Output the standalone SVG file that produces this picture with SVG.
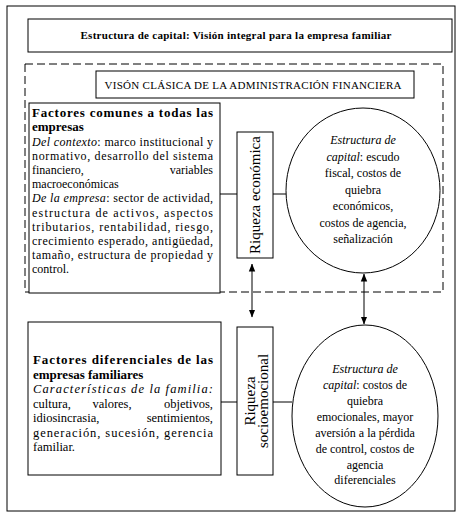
<svg xmlns="http://www.w3.org/2000/svg" width="464" height="521" viewBox="0 0 464 521">
<style>
text{font-family:"Liberation Serif","Times New Roman",serif;fill:#000}
.box{fill:#fff;stroke:#000;stroke-width:1}
.t12{font-size:12px}
.t13{font-size:12.5px}
.b{font-weight:bold}
.i{font-style:italic}
.ctr{text-anchor:middle}
.con{stroke:#000;stroke-width:1;fill:none}
</style>
<defs>
<marker id="ah" viewBox="0 0 8 8" refX="7.5" refY="4" markerWidth="8" markerHeight="8" markerUnits="userSpaceOnUse" orient="auto-start-reverse">
<path d="M0,0.8 L8,4 L0,7.2 z" fill="#000"/>
</marker>
</defs>
<rect x="0" y="0" width="464" height="521" fill="#fff"/>
<rect id="frame" x="7" y="6" width="448" height="505" fill="none" stroke="#000" stroke-width="1"/>
<g id="title">
<rect class="box" x="28" y="19" width="424" height="33"/>
<text class="b ctr" x="236" y="39" font-size="11" textLength="311" lengthAdjust="spacing">Estructura  de  capital: Visión integral para la empresa familiar</text>
</g>
<rect id="clasica-frame" x="25" y="64" width="418" height="228" fill="none" stroke="#000" stroke-width="1" stroke-dasharray="8,4"/>
<g id="vision-clasica">
<rect class="box" x="96" y="71" width="318" height="27"/>
<text class="ctr" x="253" y="89" font-size="11" textLength="297" lengthAdjust="spacing">VISÓN CLÁSICA DE LA ADMINISTRACIÓN FINANCIERA</text>
</g>
<g id="factores-comunes">
<rect class="box" x="29" y="103" width="191" height="190"/>
<text class="b" x="32" y="117" font-size="13" textLength="181" lengthAdjust="spacing">Factores comunes a todas las</text>
<text class="b" x="32" y="131" font-size="13">empresas</text>
<text class="t12" x="32" y="145.5" textLength="181" lengthAdjust="spacing"><tspan class="i">Del contexto</tspan>: marco institucional y</text>
<text class="t12" x="32" y="159.7" textLength="181" lengthAdjust="spacing">normativo, desarrollo del sistema</text>
<text class="t12" x="32" y="173.9">financiero,</text>
<text class="t12" x="213" y="173.9" text-anchor="end">variables</text>
<text class="t12" x="32" y="188.1">macroeconómicas</text>
<text class="t12" x="32" y="202.3" textLength="181" lengthAdjust="spacing"><tspan class="i">De la empresa</tspan>: sector de actividad,</text>
<text class="t12" x="32" y="216.5" textLength="181" lengthAdjust="spacing">estructura de activos, aspectos</text>
<text class="t12" x="32" y="230.7" textLength="181" lengthAdjust="spacing">tributarios, rentabilidad, riesgo,</text>
<text class="t12" x="32" y="244.9" textLength="181" lengthAdjust="spacing">crecimiento esperado, antigüedad,</text>
<text class="t12" x="32" y="259.1" textLength="181" lengthAdjust="spacing">tamaño, estructura de propiedad y</text>
<text class="t12" x="32" y="273.3">control.</text>
</g>
<g id="riqueza-economica">
<rect class="box" x="237" y="132" width="36" height="126"/>
<text class="ctr" transform="translate(260,195) rotate(-90)" font-size="15">Riqueza económica</text>
</g>
<g id="estructura-clasica">
<ellipse class="box" cx="363" cy="190.5" rx="77" ry="82.5"/>
<text class="t12 ctr" x="363" y="144"><tspan class="i">Estructura de</tspan></text>
<text class="t12 ctr" x="363" y="160.5"><tspan class="i">capital</tspan>: escudo</text>
<text class="t12 ctr" x="363" y="177">fiscal, costos de</text>
<text class="t12 ctr" x="363" y="193.5">quiebra</text>
<text class="t12 ctr" x="363" y="210">económicos,</text>
<text class="t12 ctr" x="363" y="226.5">costos de agencia,</text>
<text class="t12 ctr" x="363" y="243">señalización</text>
</g>
<g id="factores-diferenciales">
<rect class="box" x="28" y="322" width="193" height="153"/>
<text class="b" x="33" y="364" font-size="13" textLength="180" lengthAdjust="spacing">Factores diferenciales de las</text>
<text class="b" x="33" y="378.5" font-size="13">empresas familiares</text>
<text class="t13 i" x="33" y="393" textLength="180" lengthAdjust="spacing">Características de la familia:</text>
<text class="t13" x="33" y="407.5">cultura,</text>
<text class="t13 ctr" x="112" y="407.5">valores,</text>
<text class="t13" x="213" y="407.5" text-anchor="end">objetivos,</text>
<text class="t13" x="33" y="422">idiosincrasia,</text>
<text class="t13" x="213" y="422" text-anchor="end">sentimientos,</text>
<text class="t13" x="33" y="436.5" textLength="180" lengthAdjust="spacing">generación, sucesión, gerencia</text>
<text class="t13" x="33" y="451">familiar.</text>
</g>
<g id="riqueza-socioemocional">
<rect class="box" x="237" y="327" width="36" height="148"/>
<text class="ctr" transform="translate(255,401) rotate(-90)" font-size="15">Riqueza</text>
<text class="ctr" transform="translate(268,401) rotate(-90)" font-size="15">socioemocional</text>
</g>
<g id="estructura-familiar">
<ellipse class="box" cx="365" cy="416" rx="73" ry="91"/>
<text class="t12 ctr" x="365" y="373"><tspan class="i">Estructura de</tspan></text>
<text class="t12 ctr" x="365" y="389"><tspan class="i">capital</tspan>: costos de</text>
<text class="t12 ctr" x="365" y="405">quiebra</text>
<text class="t12 ctr" x="365" y="421">emocionales, mayor</text>
<text class="t12 ctr" x="365" y="437">aversión a la pérdida</text>
<text class="t12 ctr" x="365" y="453">de control, costos de</text>
<text class="t12 ctr" x="365" y="469">agencia</text>
<text class="t12 ctr" x="365" y="484">diferenciales</text>
</g>
<g id="connectors">
<line class="con" x1="220" y1="194" x2="237" y2="194"/>
<line class="con" x1="273" y1="194" x2="286" y2="194"/>
<line class="con" x1="221" y1="402" x2="237" y2="402"/>
<line class="con" x1="273" y1="402" x2="292" y2="402"/>
<line class="con" x1="252" y1="264" x2="252" y2="317" marker-start="url(#ah)" marker-end="url(#ah)"/>
<line class="con" x1="364" y1="274" x2="364" y2="324" marker-start="url(#ah)" marker-end="url(#ah)"/>
</g>
</svg>
